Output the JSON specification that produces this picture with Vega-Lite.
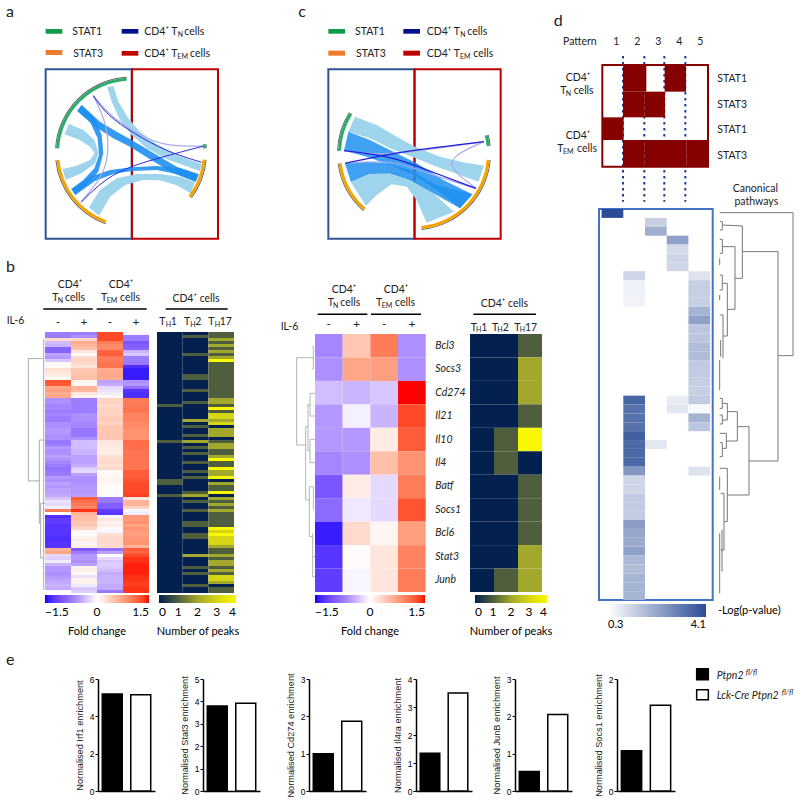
{
"$schema":"https://vega.github.io/schema/vega-lite/v6.json",
"padding":0,
"background":"white",
"config":{"view":{"stroke":null},"text":{"font":"Lato","fontSize":10.5,"baseline":"middle","color":"#222"},"legend":{"labelFont":"Lato","titleFont":"Lato","titleFontWeight":"normal"},"concat":{"spacing":0}},
"datasets":{
"genes":[
{"g":0,"tn_m":-0.7,"tn_p":-0.7,"em_m":1.3,"em_p":-0.05,"TH1":0,"TH2":0,"TH17":1},
{"g":1,"tn_m":-0.7,"tn_p":-0.6,"em_m":1.3,"em_p":-0.7,"TH1":0,"TH2":1,"TH17":1},
{"g":2,"tn_m":0.3,"tn_p":0.3,"em_m":1.3,"em_p":-0.7,"TH1":0,"TH2":0,"TH17":2},
{"g":3,"tn_m":-0.35,"tn_p":0.65,"em_m":1.0,"em_p":-1.0,"TH1":0,"TH2":0,"TH17":1},
{"g":4,"tn_m":-0.4,"tn_p":0.6,"em_m":0.9,"em_p":-0.95,"TH1":0,"TH2":0,"TH17":2},
{"g":5,"tn_m":-0.9,"tn_p":0.5,"em_m":0.9,"em_p":-0.9,"TH1":0,"TH2":0,"TH17":1},
{"g":6,"tn_m":-0.9,"tn_p":0.2,"em_m":1.15,"em_p":-0.4,"TH1":0,"TH2":0,"TH17":2},
{"g":7,"tn_m":-0.5,"tn_p":0.05,"em_m":1.2,"em_p":-0.3,"TH1":0,"TH2":1,"TH17":1},
{"g":8,"tn_m":-0.55,"tn_p":0.3,"em_m":1.0,"em_p":-0.7,"TH1":0,"TH2":0,"TH17":2},
{"g":9,"tn_m":-0.3,"tn_p":0.35,"em_m":1.0,"em_p":-0.7,"TH1":0,"TH2":0,"TH17":4},
{"g":10,"tn_m":0.03,"tn_p":0.3,"em_m":1.05,"em_p":-0.75,"TH1":0,"TH2":0,"TH17":1},
{"g":11,"tn_m":0.05,"tn_p":0.2,"em_m":1.05,"em_p":-1.3,"TH1":0,"TH2":0,"TH17":1},
{"g":12,"tn_m":0.25,"tn_p":0.45,"em_m":0.65,"em_p":-1.4,"TH1":0,"TH2":0,"TH17":1},
{"g":13,"tn_m":0.2,"tn_p":0.45,"em_m":0.65,"em_p":-1.4,"TH1":0,"TH2":0,"TH17":1},
{"g":14,"tn_m":0.15,"tn_p":0.5,"em_m":0.7,"em_p":-1.4,"TH1":0,"TH2":1,"TH17":1},
{"g":15,"tn_m":0.05,"tn_p":0.5,"em_m":0.65,"em_p":-1.4,"TH1":0,"TH2":1,"TH17":1},
{"g":16,"tn_m":1.25,"tn_p":0.1,"em_m":-0.5,"em_p":-0.6,"TH1":0,"TH2":0,"TH17":1},
{"g":17,"tn_m":1.2,"tn_p":0.05,"em_m":-0.45,"em_p":-0.55,"TH1":0,"TH2":0,"TH17":1},
{"g":18,"tn_m":0.7,"tn_p":0.6,"em_m":-0.2,"em_p":-0.8,"TH1":0,"TH2":0,"TH17":1},
{"g":19,"tn_m":0.75,"tn_p":0.55,"em_m":-0.15,"em_p":-1.25,"TH1":0,"TH2":1,"TH17":1},
{"g":20,"tn_m":0.65,"tn_p":0.2,"em_m":-0.1,"em_p":-1.3,"TH1":0,"TH2":0,"TH17":1},
{"g":21,"tn_m":0.7,"tn_p":0.1,"em_m":0.05,"em_p":-1.3,"TH1":0,"TH2":0,"TH17":1},
{"g":22,"tn_m":-0.6,"tn_p":-0.7,"em_m":0.35,"em_p":1.0,"TH1":0,"TH2":0,"TH17":2},
{"g":23,"tn_m":-0.6,"tn_p":-0.7,"em_m":0.35,"em_p":1.0,"TH1":0,"TH2":1,"TH17":2},
{"g":24,"tn_m":-0.65,"tn_p":-0.7,"em_m":0.3,"em_p":1.0,"TH1":1,"TH2":0,"TH17":1},
{"g":25,"tn_m":-0.65,"tn_p":-0.7,"em_m":0.35,"em_p":1.05,"TH1":0,"TH2":0,"TH17":4},
{"g":26,"tn_m":-0.7,"tn_p":-0.7,"em_m":0.35,"em_p":1.05,"TH1":0,"TH2":0,"TH17":1},
{"g":27,"tn_m":-0.65,"tn_p":-0.6,"em_m":0.35,"em_p":0.95,"TH1":0,"TH2":0,"TH17":3},
{"g":28,"tn_m":-0.7,"tn_p":-0.6,"em_m":0.4,"em_p":0.95,"TH1":0,"TH2":0,"TH17":3},
{"g":29,"tn_m":-0.7,"tn_p":-0.6,"em_m":0.4,"em_p":0.95,"TH1":0,"TH2":2,"TH17":2},
{"g":30,"tn_m":-0.6,"tn_p":-0.65,"em_m":0.35,"em_p":0.9,"TH1":0,"TH2":0,"TH17":3},
{"g":31,"tn_m":-0.6,"tn_p":-0.65,"em_m":0.45,"em_p":0.9,"TH1":0,"TH2":1,"TH17":0},
{"g":32,"tn_m":-0.55,"tn_p":-0.75,"em_m":0.45,"em_p":0.85,"TH1":0,"TH2":0,"TH17":2},
{"g":33,"tn_m":-0.55,"tn_p":-0.75,"em_m":0.45,"em_p":0.85,"TH1":0,"TH2":0,"TH17":2},
{"g":34,"tn_m":-0.6,"tn_p":-0.75,"em_m":0.45,"em_p":0.85,"TH1":0,"TH2":1,"TH17":2},
{"g":35,"tn_m":-0.6,"tn_p":-0.6,"em_m":0.45,"em_p":0.85,"TH1":0,"TH2":0,"TH17":0},
{"g":36,"tn_m":-0.75,"tn_p":-0.35,"em_m":0.2,"em_p":1.1,"TH1":1,"TH2":2,"TH17":1},
{"g":37,"tn_m":-0.7,"tn_p":-0.35,"em_m":0.2,"em_p":1.1,"TH1":0,"TH2":0,"TH17":2},
{"g":38,"tn_m":-0.55,"tn_p":-0.35,"em_m":0.15,"em_p":1.1,"TH1":0,"TH2":1,"TH17":2},
{"g":39,"tn_m":-0.6,"tn_p":-0.4,"em_m":0.15,"em_p":1.05,"TH1":0,"TH2":0,"TH17":1},
{"g":40,"tn_m":-0.6,"tn_p":-0.4,"em_m":0.15,"em_p":1.05,"TH1":0,"TH2":1,"TH17":1},
{"g":41,"tn_m":-0.5,"tn_p":-0.5,"em_m":0.25,"em_p":1.05,"TH1":0,"TH2":0,"TH17":2},
{"g":42,"tn_m":-0.6,"tn_p":-0.5,"em_m":0.3,"em_p":1.05,"TH1":0,"TH2":0,"TH17":4},
{"g":43,"tn_m":-0.65,"tn_p":-0.5,"em_m":0.3,"em_p":1.05,"TH1":0,"TH2":1,"TH17":1},
{"g":44,"tn_m":-0.7,"tn_p":-0.45,"em_m":0.25,"em_p":1.05,"TH1":0,"TH2":0,"TH17":1},
{"g":45,"tn_m":-0.8,"tn_p":-0.25,"em_m":0.3,"em_p":1.05,"TH1":0,"TH2":0,"TH17":4},
{"g":46,"tn_m":-0.75,"tn_p":-0.2,"em_m":0.03,"em_p":1.2,"TH1":0,"TH2":1,"TH17":2},
{"g":47,"tn_m":-0.7,"tn_p":-0.5,"em_m":0.05,"em_p":1.2,"TH1":0,"TH2":0,"TH17":2},
{"g":48,"tn_m":-0.55,"tn_p":-0.6,"em_m":0.08,"em_p":1.2,"TH1":0,"TH2":1,"TH17":4},
{"g":49,"tn_m":-0.6,"tn_p":-0.6,"em_m":0.1,"em_p":1.25,"TH1":1,"TH2":0,"TH17":0},
{"g":50,"tn_m":-0.5,"tn_p":-0.6,"em_m":0.06,"em_p":1.3,"TH1":1,"TH2":0,"TH17":2},
{"g":51,"tn_m":-0.55,"tn_p":-0.55,"em_m":0.03,"em_p":1.3,"TH1":0,"TH2":0,"TH17":1},
{"g":52,"tn_m":-0.5,"tn_p":-0.55,"em_m":0.02,"em_p":1.3,"TH1":0,"TH2":0,"TH17":1},
{"g":53,"tn_m":-0.5,"tn_p":-0.55,"em_m":0.02,"em_p":1.3,"TH1":0,"TH2":1,"TH17":4},
{"g":54,"tn_m":-0.45,"tn_p":-0.5,"em_m":0.05,"em_p":1.35,"TH1":1,"TH2":2,"TH17":0},
{"g":55,"tn_m":-0.3,"tn_p":1.2,"em_m":-0.7,"em_p":0.2,"TH1":0,"TH2":0,"TH17":2},
{"g":56,"tn_m":-0.15,"tn_p":1.1,"em_m":-0.75,"em_p":0.6,"TH1":0,"TH2":1,"TH17":1},
{"g":57,"tn_m":-0.2,"tn_p":1.0,"em_m":-0.95,"em_p":0.6,"TH1":0,"TH2":0,"TH17":2},
{"g":58,"tn_m":-0.1,"tn_p":0.95,"em_m":-0.95,"em_p":0.35,"TH1":0,"TH2":0,"TH17":1},
{"g":59,"tn_m":1.0,"tn_p":1.4,"em_m":-1.2,"em_p":-0.05,"TH1":0,"TH2":1,"TH17":2},
{"g":60,"tn_m":0.02,"tn_p":0.6,"em_m":-1.25,"em_p":-0.1,"TH1":0,"TH2":0,"TH17":1},
{"g":61,"tn_m":-1.3,"tn_p":0.5,"em_m":-0.05,"em_p":0.8,"TH1":0,"TH2":0,"TH17":1},
{"g":62,"tn_m":-1.2,"tn_p":0.5,"em_m":0.2,"em_p":0.8,"TH1":0,"TH2":0,"TH17":1},
{"g":63,"tn_m":-1.2,"tn_p":0.45,"em_m":0.1,"em_p":0.85,"TH1":0,"TH2":1,"TH17":1},
{"g":64,"tn_m":-1.25,"tn_p":0.45,"em_m":0.15,"em_p":0.7,"TH1":0,"TH2":1,"TH17":1},
{"g":65,"tn_m":-1.25,"tn_p":0.3,"em_m":-0.02,"em_p":0.85,"TH1":0,"TH2":0,"TH17":4},
{"g":66,"tn_m":-1.25,"tn_p":0.05,"em_m":-0.05,"em_p":0.75,"TH1":0,"TH2":0,"TH17":3},
{"g":67,"tn_m":-1.25,"tn_p":0.02,"em_m":0.25,"em_p":0.75,"TH1":0,"TH2":1,"TH17":4},
{"g":68,"tn_m":-1.3,"tn_p":0.1,"em_m":0.3,"em_p":0.8,"TH1":0,"TH2":1,"TH17":3},
{"g":69,"tn_m":-1.3,"tn_p":0.15,"em_m":0.3,"em_p":0.8,"TH1":0,"TH2":0,"TH17":3},
{"g":70,"tn_m":-1.25,"tn_p":-0.05,"em_m":0.3,"em_p":0.85,"TH1":0,"TH2":0,"TH17":3},
{"g":71,"tn_m":-1.25,"tn_p":0.15,"em_m":0.3,"em_p":0.6,"TH1":0,"TH2":0,"TH17":2},
{"g":72,"tn_m":0.6,"tn_p":-1.0,"em_m":-0.8,"em_p":1.2,"TH1":0,"TH2":0,"TH17":1},
{"g":73,"tn_m":0.7,"tn_p":-0.7,"em_m":-0.5,"em_p":1.15,"TH1":0,"TH2":0,"TH17":1},
{"g":74,"tn_m":-0.2,"tn_p":-0.55,"em_m":0.0,"em_p":1.3,"TH1":0,"TH2":2,"TH17":2},
{"g":75,"tn_m":-0.25,"tn_p":-0.55,"em_m":-0.2,"em_p":1.4,"TH1":0,"TH2":0,"TH17":1},
{"g":76,"tn_m":-0.1,"tn_p":-0.6,"em_m":-0.3,"em_p":1.4,"TH1":0,"TH2":0,"TH17":2},
{"g":77,"tn_m":-0.4,"tn_p":-0.5,"em_m":-0.25,"em_p":1.45,"TH1":0,"TH2":0,"TH17":2},
{"g":78,"tn_m":-0.55,"tn_p":0.08,"em_m":-0.3,"em_p":1.45,"TH1":0,"TH2":1,"TH17":1},
{"g":79,"tn_m":-0.55,"tn_p":0.12,"em_m":-0.35,"em_p":1.45,"TH1":0,"TH2":0,"TH17":2},
{"g":80,"tn_m":-0.6,"tn_p":0.05,"em_m":-0.45,"em_p":1.45,"TH1":0,"TH2":1,"TH17":1},
{"g":81,"tn_m":-0.55,"tn_p":-0.15,"em_m":-0.4,"em_p":1.4,"TH1":0,"TH2":0,"TH17":3},
{"g":82,"tn_m":-0.5,"tn_p":0.12,"em_m":-0.4,"em_p":1.4,"TH1":0,"TH2":0,"TH17":3},
{"g":83,"tn_m":-0.45,"tn_p":0.1,"em_m":-0.4,"em_p":1.35,"TH1":0,"TH2":0,"TH17":2},
{"g":84,"tn_m":-0.4,"tn_p":-0.1,"em_m":-0.45,"em_p":1.35,"TH1":0,"TH2":1,"TH17":0},
{"g":85,"tn_m":-0.45,"tn_p":-0.3,"em_m":-0.45,"em_p":1.4,"TH1":0,"TH2":0,"TH17":1},
{"g":86,"tn_m":0.0,"tn_p":-0.25,"em_m":-0.75,"em_p":1.4,"TH1":0,"TH2":0,"TH17":1}
],
"selected":[
{"gene":"Bcl3","tn_m":-0.65,"tn_p":0.45,"em_m":1.0,"em_p":-0.6,"TH1":0,"TH2":0,"TH17":1},
{"gene":"Socs3","tn_m":-0.6,"tn_p":0.7,"em_m":0.75,"em_p":-0.6,"TH1":0,"TH2":0,"TH17":2},
{"gene":"Cd274","tn_m":-0.35,"tn_p":-0.4,"em_m":-0.3,"em_p":1.5,"TH1":0,"TH2":0,"TH17":2},
{"gene":"Il21","tn_m":-0.55,"tn_p":-0.08,"em_m":-0.4,"em_p":1.3,"TH1":0,"TH2":0,"TH17":1},
{"gene":"Il10","tn_m":-0.55,"tn_p":-0.55,"em_m":0.15,"em_p":1.2,"TH1":0,"TH2":1,"TH17":4},
{"gene":"Il4","tn_m":-0.65,"tn_p":-0.6,"em_m":0.5,"em_p":0.85,"TH1":0,"TH2":1,"TH17":0},
{"gene":"Batf","tn_m":-1.0,"tn_p":0.15,"em_m":-0.2,"em_p":1.0,"TH1":0,"TH2":0,"TH17":1},
{"gene":"Socs1","tn_m":-0.85,"tn_p":-0.12,"em_m":-0.2,"em_p":1.25,"TH1":0,"TH2":0,"TH17":1},
{"gene":"Bcl6","tn_m":-1.4,"tn_p":0.3,"em_m":0.07,"em_p":0.75,"TH1":0,"TH2":0,"TH17":1},
{"gene":"Stat3","tn_m":-1.25,"tn_p":0.03,"em_m":0.2,"em_p":0.95,"TH1":0,"TH2":0,"TH17":2},
{"gene":"Junb","tn_m":-1.2,"tn_p":-0.05,"em_m":0.2,"em_p":1.0,"TH1":0,"TH2":1,"TH17":2}
],
"pathways":[
{"r":0,"p":"1","v":4.1},{"r":1,"p":"3","v":1.3},{"r":2,"p":"3","v":2.0},{"r":3,"p":"4","v":2.3},{"r":4,"p":"4","v":1.1},{"r":5,"p":"4","v":1.2},{"r":6,"p":"4","v":1.2},
{"r":7,"p":"2","v":1.2},{"r":7,"p":"5","v":0.9},{"r":8,"p":"2","v":0.6},{"r":8,"p":"5","v":1.3},{"r":9,"p":"2","v":0.6},{"r":9,"p":"5","v":1.3},{"r":10,"p":"2","v":0.55},{"r":10,"p":"5","v":1.3},
{"r":11,"p":"5","v":1.9},{"r":12,"p":"5","v":2.3},{"r":13,"p":"5","v":1.5},{"r":14,"p":"5","v":1.5},{"r":15,"p":"5","v":1.7},{"r":16,"p":"5","v":1.7},{"r":17,"p":"5","v":1.4},{"r":18,"p":"5","v":1.4},{"r":19,"p":"5","v":1.3},{"r":20,"p":"5","v":1.3},
{"r":21,"p":"2","v":3.6},{"r":21,"p":"4","v":0.7},{"r":21,"p":"5","v":1.4},{"r":22,"p":"2","v":3.3},{"r":22,"p":"4","v":0.8},{"r":22,"p":"5","v":0.4},{"r":23,"p":"2","v":3.3},{"r":23,"p":"5","v":1.9},{"r":24,"p":"2","v":3.3},{"r":24,"p":"5","v":1.5},
{"r":25,"p":"2","v":3.7},{"r":26,"p":"2","v":3.5},{"r":26,"p":"3","v":0.8},{"r":27,"p":"2","v":3.5},{"r":28,"p":"2","v":3.5},{"r":29,"p":"2","v":2.5},{"r":29,"p":"5","v":0.9},
{"r":30,"p":"2","v":1.2},{"r":31,"p":"2","v":1.2},{"r":32,"p":"2","v":1.4},{"r":33,"p":"2","v":1.4},{"r":34,"p":"2","v":1.4},{"r":35,"p":"2","v":2.4},{"r":36,"p":"2","v":2.2},{"r":37,"p":"2","v":2.1},{"r":38,"p":"2","v":2.3},{"r":39,"p":"2","v":1.8},{"r":40,"p":"2","v":1.7},{"r":41,"p":"2","v":1.9},{"r":42,"p":"2","v":1.9},{"r":43,"p":"2","v":1.9}
]
},
"resolve":{"scale":{"color":"independent","fill":"independent"}},
"vconcat":[
{"resolve":{"scale":{"color":"independent","fill":"independent"}},"hconcat":[
{"resolve":{"scale":{"color":"independent","fill":"independent"}},"vconcat":[
{"width":260,"height":332,"resolve":{"scale":{"color":"independent"}},
"encoding":{"x":{"field":"x","type":"quantitative","scale":{"domain":[0,780],"nice":false,"zero":false},"axis":null},"y":{"field":"y","type":"quantitative","scale":{"domain":[0,996],"reverse":true,"nice":false,"zero":false},"axis":null}},
"layer":[
{"data":{"values":[{"c":"TN","x":137,"x2":395,"y":208,"y2":716},{"c":"TEM","x":396,"x2":654,"y":208,"y2":716}]},"mark":{"type":"rect","filled":false,"strokeWidth":2},"encoding":{"x2":{"field":"x2"},"y2":{"field":"y2"},"color":{"field":"c","type":"nominal","scale":{"domain":["TN","TEM"],"range":["#2f5597","#c00000"]},"legend":null}}},
{"data":{"values":[{"c":"STAT1","x":137,"x2":187,"y":87,"y2":101},{"c":"TN","x":365,"x2":415,"y":87,"y2":101},{"c":"STAT3","x":137,"x2":187,"y":150,"y2":165},{"c":"TEM","x":365,"x2":415,"y":153,"y2":167}]},"mark":{"type":"rect"},"encoding":{"x2":{"field":"x2"},"y2":{"field":"y2"},"color":{"field":"c","type":"nominal","scale":{"domain":["STAT1","STAT3","TN","TEM"],"range":["#0f9a46","#ee7b2c","#00108c","#c00000"]},"legend":null}}},
{"data":{"values":[
{"id":"R1","o":1,"x":322,"y":262},{"id":"R1","o":2,"x":335,"y":305},{"id":"R1","o":3,"x":360,"y":360},{"id":"R1","o":4,"x":395,"y":405},{"id":"R1","o":5,"x":440,"y":445},{"id":"R1","o":6,"x":500,"y":478},{"id":"R1","o":7,"x":600,"y":513},{"id":"R1","o":8,"x":605,"y":492},{"id":"R1","o":9,"x":530,"y":465},{"id":"R1","o":10,"x":470,"y":432},{"id":"R1","o":11,"x":420,"y":395},{"id":"R1","o":12,"x":385,"y":355},{"id":"R1","o":13,"x":355,"y":305},{"id":"R1","o":14,"x":340,"y":258},
{"id":"R2","o":1,"x":207,"y":372},{"id":"R2","o":2,"x":250,"y":390},{"id":"R2","o":3,"x":283,"y":420},{"id":"R2","o":4,"x":296,"y":460},{"id":"R2","o":5,"x":285,"y":490},{"id":"R2","o":6,"x":245,"y":520},{"id":"R2","o":7,"x":197,"y":540},{"id":"R2","o":8,"x":188,"y":507},{"id":"R2","o":9,"x":230,"y":497},{"id":"R2","o":10,"x":270,"y":480},{"id":"R2","o":11,"x":284,"y":460},{"id":"R2","o":12,"x":270,"y":440},{"id":"R2","o":13,"x":235,"y":418},{"id":"R2","o":14,"x":193,"y":403},
{"id":"R3","o":1,"x":267,"y":622},{"id":"R3","o":2,"x":300,"y":570},{"id":"R3","o":3,"x":350,"y":535},{"id":"R3","o":4,"x":410,"y":522},{"id":"R3","o":5,"x":480,"y":522},{"id":"R3","o":6,"x":540,"y":530},{"id":"R3","o":7,"x":585,"y":547},{"id":"R3","o":8,"x":572,"y":580},{"id":"R3","o":9,"x":530,"y":556},{"id":"R3","o":10,"x":480,"y":541},{"id":"R3","o":11,"x":430,"y":540},{"id":"R3","o":12,"x":375,"y":555},{"id":"R3","o":13,"x":330,"y":590},{"id":"R3","o":14,"x":297,"y":647}]},
"mark":{"type":"line","filled":true,"interpolate":"linear-closed","color":"#9fd5ec","strokeWidth":0},"encoding":{"detail":{"field":"id"},"order":{"field":"o","type":"quantitative"}}},
{"data":{"values":[
{"id":"M1","o":1,"x":245,"y":315},{"id":"M1","o":2,"x":300,"y":365},{"id":"M1","o":3,"x":350,"y":395},{"id":"M1","o":4,"x":400,"y":423},{"id":"M1","o":5,"x":470,"y":465},{"id":"M1","o":6,"x":530,"y":500},{"id":"M1","o":7,"x":596,"y":523},{"id":"M1","o":8,"x":587,"y":545},{"id":"M1","o":9,"x":520,"y":520},{"id":"M1","o":10,"x":450,"y":478},{"id":"M1","o":11,"x":390,"y":440},{"id":"M1","o":12,"x":340,"y":415},{"id":"M1","o":13,"x":285,"y":380},{"id":"M1","o":14,"x":232,"y":333},
{"id":"M2","o":1,"x":245,"y":315},{"id":"M2","o":2,"x":285,"y":355},{"id":"M2","o":3,"x":305,"y":405},{"id":"M2","o":4,"x":310,"y":460},{"id":"M2","o":5,"x":295,"y":515},{"id":"M2","o":6,"x":265,"y":550},{"id":"M2","o":7,"x":226,"y":585},{"id":"M2","o":8,"x":214,"y":567},{"id":"M2","o":9,"x":250,"y":540},{"id":"M2","o":10,"x":283,"y":505},{"id":"M2","o":11,"x":297,"y":465},{"id":"M2","o":12,"x":293,"y":415},{"id":"M2","o":13,"x":270,"y":365},{"id":"M2","o":14,"x":232,"y":333},
{"id":"M3","o":1,"x":214,"y":567},{"id":"M3","o":2,"x":270,"y":530},{"id":"M3","o":3,"x":330,"y":510},{"id":"M3","o":4,"x":395,"y":502},{"id":"M3","o":5,"x":470,"y":498},{"id":"M3","o":6,"x":540,"y":505},{"id":"M3","o":7,"x":596,"y":523},{"id":"M3","o":8,"x":587,"y":545},{"id":"M3","o":9,"x":530,"y":522},{"id":"M3","o":10,"x":470,"y":510},{"id":"M3","o":11,"x":395,"y":513},{"id":"M3","o":12,"x":340,"y":522},{"id":"M3","o":13,"x":285,"y":543},{"id":"M3","o":14,"x":226,"y":585}]},
"mark":{"type":"line","filled":true,"interpolate":"linear-closed","color":"#1e90f0","opacity":0.9,"strokeWidth":0},"encoding":{"detail":{"field":"id"},"order":{"field":"o","type":"quantitative"}}},
{"data":{"values":[{"id":"T2","o":1,"x":280,"y":287},{"id":"T2","o":2,"x":325,"y":380},{"id":"T2","o":3,"x":325,"y":480},{"id":"T2","o":4,"x":300,"y":540},{"id":"T2","o":5,"x":243,"y":605},{"id":"T4","o":1,"x":280,"y":287},{"id":"T4","o":2,"x":330,"y":350},{"id":"T4","o":3,"x":440,"y":420},{"id":"T4","o":4,"x":520,"y":440},{"id":"T4","o":5,"x":612,"y":438}]},"mark":{"type":"line","interpolate":"basis","color":"#a9a9f2","strokeWidth":1.2},"encoding":{"detail":{"field":"id"},"order":{"field":"o","type":"quantitative"}}},
{"data":{"values":[{"id":"T1","o":1,"x":280,"y":287},{"id":"T1","o":2,"x":320,"y":345},{"id":"T1","o":3,"x":400,"y":400},{"id":"T1","o":4,"x":500,"y":455},{"id":"T1","o":5,"x":605,"y":487},{"id":"T3","o":1,"x":243,"y":607},{"id":"T3","o":2,"x":290,"y":560},{"id":"T3","o":3,"x":350,"y":515},{"id":"T3","o":4,"x":450,"y":480},{"id":"T3","o":5,"x":612,"y":438}]},"mark":{"type":"line","interpolate":"basis","color":"#2a2ae0","strokeWidth":1},"encoding":{"detail":{"field":"id"},"order":{"field":"o","type":"quantitative"}}},
{"data":{"values":[{"x":393,"y":458,"s":273.4,"e":356.6},{"x":393,"y":458,"s":199.8,"e":264.3},{"x":393,"y":458,"s":95.5,"e":126.9},{"x":393,"y":458,"s":83.4,"e":86.7}]},"mark":{"type":"arc","outerRadius":76,"innerRadius":75,"color":"#666"},"encoding":{"theta":{"field":"s","type":"quantitative","stack":false,"scale":{"domain":[0,360],"range":[0,6.2832]}},"theta2":{"field":"e"}}},
{"data":{"values":[{"k":"STAT1","x":393,"y":458,"s":273.4,"e":356.6},{"k":"STAT3","x":393,"y":458,"s":199.8,"e":264.3},{"k":"STAT3","x":393,"y":458,"s":95.5,"e":126.9},{"k":"STAT1","x":393,"y":458,"s":83.4,"e":86.7}]},"mark":{"type":"arc","outerRadius":75,"innerRadius":72},"encoding":{"theta":{"field":"s","type":"quantitative","stack":false,"scale":{"domain":[0,360],"range":[0,6.2832]}},"theta2":{"field":"e"},"color":{"field":"k","type":"nominal","scale":{"domain":["STAT1","STAT3"],"range":["#2bab6c","#f5a300"]},"legend":null}}},
{"data":{"values":[{"x":130,"x2":278,"y":927},{"x":290,"x2":440,"y":927},{"x":497,"x2":683,"y":927}]},"mark":{"type":"rule","color":"black","strokeWidth":1.5},"encoding":{"x2":{"field":"x2"}}},
{"data":{"values":[{"t":"a","x":18,"y":35},{"t":"b","x":18,"y":802}]},"mark":{"type":"text","align":"left","fontSize":16},"encoding":{"text":{"field":"t"}}},
{"data":{"values":[{"t":"STAT1","x":217,"y":97},{"t":"STAT3","x":220,"y":163},{"t":"CD4⁺ T","x":433,"y":97},{"t":"cells","x":553,"y":97},{"t":"CD4⁺ T","x":433,"y":163},{"t":"cells","x":570,"y":163},{"t":"T","x":157,"y":893},{"t":"cells","x":195,"y":893},{"t":"T","x":303,"y":893},{"t":"cells","x":360,"y":893},{"t":"IL-6","x":20,"y":963},{"t":"T","x":478,"y":967},{"t":"1","x":512,"y":967},{"t":"T","x":552,"y":967},{"t":"2","x":586,"y":967},{"t":"T","x":625,"y":967},{"t":"17","x":659,"y":967}]},"mark":{"type":"text","align":"left"},"encoding":{"text":{"field":"t"}}},
{"data":{"values":[{"t":"CD4⁺","x":210,"y":855},{"t":"CD4⁺","x":363,"y":855},{"t":"CD4⁺ cells","x":588,"y":897}]},"mark":{"type":"text","align":"center"},"encoding":{"text":{"field":"t"}}},
{"data":{"values":[{"t":"N","x":533,"y":106},{"t":"EM","x":532,"y":172},{"t":"N","x":173,"y":902},{"t":"EM","x":320,"y":902},{"t":"H","x":497,"y":975},{"t":"H","x":571,"y":975},{"t":"H","x":644,"y":975}]},"mark":{"type":"text","align":"left","fontSize":7},"encoding":{"text":{"field":"t"}}}
]},
{"resolve":{"scale":{"color":"independent","fill":"independent"}},"hconcat":[
{"width":45,"height":261,"data":{"values":[{"x":85,"x2":128,"y":295,"y2":295},{"x":85,"x2":85,"y":295,"y2":663},{"x":85,"x2":118,"y":663,"y2":663},{"x":118,"x2":118,"y":540,"y2":790},{"x":118,"x2":130,"y":540,"y2":540},{"x":118,"x2":122,"y":790,"y2":790},{"x":122,"x2":122,"y":730,"y2":895},{"x":122,"x2":135,"y":730,"y2":730},{"x":122,"x2":130,"y":895,"y2":895},{"x":131,"x2":131,"y":235,"y2":990}]},"mark":{"type":"rule","color":"#aaa","strokeWidth":1},"encoding":{"x":{"field":"x","type":"quantitative","scale":{"domain":[0,135],"nice":false,"zero":false},"axis":null},"x2":{"field":"x2"},"y":{"field":"y","type":"quantitative","scale":{"domain":[215,1000],"reverse":true,"nice":false,"zero":false},"axis":null},"y2":{"field":"y2"}}},
{"width":104,"height":261,"data":{"name":"genes"},"transform":[{"fold":["tn_m","tn_p","em_m","em_p"],"as":["cond","fc"]}],"mark":{"type":"rect"},"encoding":{"x":{"field":"cond","type":"nominal","scale":{"domain":["tn_m","tn_p","em_m","em_p"],"padding":0},"axis":{"orient":"top","title":null,"domain":false,"ticks":false,"labelAngle":0,"labelFont":"Lato","labelFontSize":12,"labelPadding":4,"labelColor":"#222","labelExpr":"slice(datum.label,-1)=='m'?'-':'+'"}},"y":{"field":"g","type":"ordinal","scale":{"padding":0},"axis":null},"color":{"field":"fc","type":"quantitative","scale":{"domain":[-1.5,-0.7,0,1.5],"range":["#0000ff","#9d7dff","#ffffff","#ff0000"],"interpolate":"lab"},"legend":{"orient":"none","legendX":0,"legendY":263,"direction":"horizontal","gradientLength":104,"gradientThickness":8,"values":[-1.5,0,1.5],"format":".1~f","labelFontSize":12,"labelOffset":4,"title":"Fold change","titleOrient":"bottom","titleAnchor":"middle","titleFontSize":11,"titlePadding":8}}}},
{"width":8,"height":261,"data":{"values":[]},"mark":{"type":"point","opacity":0},"encoding":{}},
{"width":77,"height":261,"data":{"name":"genes"},"transform":[{"fold":["TH1","TH2","TH17"],"as":["subset","peaks"]}],"mark":{"type":"rect"},"encoding":{"x":{"field":"subset","type":"nominal","scale":{"domain":["TH1","TH2","TH17"],"padding":0},"axis":null},"y":{"field":"g","type":"ordinal","scale":{"padding":0},"axis":null},"color":{"field":"peaks","type":"quantitative","scale":{"domain":[0,1,2,3,4],"range":["#04204f","#4f5e3c","#a1a82b","#d6d614","#f8f800"],"interpolate":"rgb"},"legend":{"orient":"none","legendX":0,"legendY":263,"direction":"horizontal","gradientLength":77,"gradientThickness":8,"values":[0,1,2,3,4],"labelFontSize":12,"labelOffset":4,"title":"Number of peaks","titleOrient":"bottom","titleAnchor":"middle","titleFontSize":11,"titlePadding":8}}}}
],"spacing":0,"bounds":"flush"}
],"spacing":0,"bounds":"flush"},
{"resolve":{"scale":{"color":"independent","fill":"independent"}},"vconcat":[
{"width":290,"height":334,"resolve":{"scale":{"color":"independent"}},
"encoding":{"x":{"field":"x","type":"quantitative","scale":{"domain":[0,870],"nice":false,"zero":false},"axis":null},"y":{"field":"y","type":"quantitative","scale":{"domain":[0,1002],"reverse":true,"nice":false,"zero":false},"axis":null}},
"layer":[
{"data":{"values":[{"c":"TN","x":205,"x2":463,"y":208,"y2":716},{"c":"TEM","x":464,"x2":722,"y":208,"y2":716}]},"mark":{"type":"rect","filled":false,"strokeWidth":2},"encoding":{"x2":{"field":"x2"},"y2":{"field":"y2"},"color":{"field":"c","type":"nominal","scale":{"domain":["TN","TEM"],"range":["#2f5597","#c00000"]},"legend":null}}},
{"data":{"values":[{"c":"STAT1","x":205,"x2":255,"y":87,"y2":101},{"c":"TN","x":430,"x2":480,"y":87,"y2":101},{"c":"STAT3","x":205,"x2":255,"y":152,"y2":167},{"c":"TEM","x":430,"x2":480,"y":152,"y2":167}]},"mark":{"type":"rect"},"encoding":{"x2":{"field":"x2"},"y2":{"field":"y2"},"color":{"field":"c","type":"nominal","scale":{"domain":["STAT1","STAT3","TN","TEM"],"range":["#0f9a46","#ee7b2c","#00108c","#c00000"]},"legend":null}}},
{"data":{"values":[
{"id":"L1","o":1,"x":285,"y":350},{"id":"L1","o":2,"x":350,"y":375},{"id":"L1","o":3,"x":410,"y":410},{"id":"L1","o":4,"x":465,"y":440},{"id":"L1","o":5,"x":540,"y":470},{"id":"L1","o":6,"x":610,"y":487},{"id":"L1","o":7,"x":672,"y":497},{"id":"L1","o":8,"x":655,"y":545},{"id":"L1","o":9,"x":600,"y":525},{"id":"L1","o":10,"x":530,"y":500},{"id":"L1","o":11,"x":460,"y":472},{"id":"L1","o":12,"x":390,"y":445},{"id":"L1","o":13,"x":330,"y":415},{"id":"L1","o":14,"x":265,"y":395},
{"id":"L2","o":1,"x":272,"y":545},{"id":"L2","o":2,"x":335,"y":522},{"id":"L2","o":3,"x":400,"y":517},{"id":"L2","o":4,"x":460,"y":540},{"id":"L2","o":5,"x":520,"y":580},{"id":"L2","o":6,"x":582,"y":635},{"id":"L2","o":7,"x":500,"y":668},{"id":"L2","o":8,"x":470,"y":600},{"id":"L2","o":9,"x":440,"y":560},{"id":"L2","o":10,"x":395,"y":553},{"id":"L2","o":11,"x":350,"y":585},{"id":"L2","o":12,"x":318,"y":617}]},
"mark":{"type":"line","filled":true,"interpolate":"linear-closed","color":"#9fd5ec","strokeWidth":0},"encoding":{"detail":{"field":"id"},"order":{"field":"o","type":"quantitative"}}},
{"data":{"values":[
{"id":"M1","o":1,"x":265,"y":395},{"id":"M1","o":2,"x":330,"y":420},{"id":"M1","o":3,"x":400,"y":455},{"id":"M1","o":4,"x":470,"y":490},{"id":"M1","o":5,"x":550,"y":540},{"id":"M1","o":6,"x":637,"y":583},{"id":"M1","o":7,"x":600,"y":625},{"id":"M1","o":8,"x":530,"y":570},{"id":"M1","o":9,"x":460,"y":525},{"id":"M1","o":10,"x":390,"y":495},{"id":"M1","o":11,"x":320,"y":470},{"id":"M1","o":12,"x":252,"y":452},
{"id":"M2","o":1,"x":255,"y":490},{"id":"M2","o":2,"x":320,"y":485},{"id":"M2","o":3,"x":380,"y":490},{"id":"M2","o":4,"x":450,"y":510},{"id":"M2","o":5,"x":530,"y":555},{"id":"M2","o":6,"x":637,"y":583},{"id":"M2","o":7,"x":600,"y":625},{"id":"M2","o":8,"x":520,"y":580},{"id":"M2","o":9,"x":450,"y":540},{"id":"M2","o":10,"x":390,"y":520},{"id":"M2","o":11,"x":330,"y":522},{"id":"M2","o":12,"x":272,"y":545}]},
"mark":{"type":"line","filled":true,"interpolate":"linear-closed","color":"#1e90f0","opacity":0.85,"strokeWidth":0},"encoding":{"detail":{"field":"id"},"order":{"field":"o","type":"quantitative"}}},
{"data":{"values":[{"id":"T3","o":1,"x":672,"y":425},{"id":"T3","o":2,"x":570,"y":470},{"id":"T3","o":3,"x":575,"y":510},{"id":"T3","o":4,"x":648,"y":565},{"id":"T4","o":1,"x":252,"y":452},{"id":"T4","o":2,"x":350,"y":465},{"id":"T4","o":3,"x":460,"y":455},{"id":"T4","o":4,"x":672,"y":425},{"id":"T5","o":1,"x":255,"y":490},{"id":"T5","o":2,"x":400,"y":480},{"id":"T5","o":3,"x":500,"y":520},{"id":"T5","o":4,"x":648,"y":565}]},"mark":{"type":"line","interpolate":"basis","color":"#a9a9f2","strokeWidth":1.2},"encoding":{"detail":{"field":"id"},"order":{"field":"o","type":"quantitative"}}},
{"data":{"values":[{"id":"T1","o":1,"x":252,"y":452},{"id":"T1","o":2,"x":400,"y":470},{"id":"T1","o":3,"x":500,"y":510},{"id":"T1","o":4,"x":648,"y":565},{"id":"T2","o":1,"x":255,"y":490},{"id":"T2","o":2,"x":350,"y":470},{"id":"T2","o":3,"x":460,"y":450},{"id":"T2","o":4,"x":672,"y":425}]},"mark":{"type":"line","interpolate":"basis","color":"#2020d8","strokeWidth":1.3},"encoding":{"detail":{"field":"id"},"order":{"field":"o","type":"quantitative"}}},
{"data":{"values":[{"x":462,"y":460,"s":272,"e":302.3},{"x":462,"y":460,"s":221.4,"e":262.4},{"x":462,"y":460,"s":95,"e":174.3},{"x":462,"y":460,"s":76,"e":84.4}]},"mark":{"type":"arc","outerRadius":77,"innerRadius":76,"color":"#666"},"encoding":{"theta":{"field":"s","type":"quantitative","stack":false,"scale":{"domain":[0,360],"range":[0,6.2832]}},"theta2":{"field":"e"}}},
{"data":{"values":[{"k":"STAT1","x":462,"y":460,"s":272,"e":302.3},{"k":"STAT3","x":462,"y":460,"s":221.4,"e":262.4},{"k":"STAT3","x":462,"y":460,"s":95,"e":174.3},{"k":"STAT1","x":462,"y":460,"s":76,"e":84.4}]},"mark":{"type":"arc","outerRadius":76,"innerRadius":73},"encoding":{"theta":{"field":"s","type":"quantitative","stack":false,"scale":{"domain":[0,360],"range":[0,6.2832]}},"theta2":{"field":"e"},"color":{"field":"k","type":"nominal","scale":{"domain":["STAT1","STAT3"],"range":["#2bab6c","#f5a300"]},"legend":null}}},
{"data":{"values":[{"x":173,"x2":322,"y":943},{"x":333,"x2":483,"y":943},{"x":640,"x2":828,"y":943}]},"mark":{"type":"rule","color":"black","strokeWidth":1.5},"encoding":{"x2":{"field":"x2"}}},
{"data":{"values":[{"t":"c","x":115,"y":35}]},"mark":{"type":"text","align":"left","fontSize":16},"encoding":{"text":{"field":"t"}}},
{"data":{"values":[{"t":"STAT1","x":285,"y":97},{"t":"STAT3","x":288,"y":163},{"t":"CD4⁺ T","x":500,"y":97},{"t":"cells","x":622,"y":97},{"t":"CD4⁺ T","x":500,"y":163},{"t":"cells","x":640,"y":163},{"t":"T","x":203,"y":910},{"t":"cells","x":241,"y":910},{"t":"T","x":348,"y":910},{"t":"cells","x":405,"y":910},{"t":"IL-6","x":62,"y":980},{"t":"T","x":632,"y":983},{"t":"1","x":664,"y":983},{"t":"T","x":696,"y":983},{"t":"2","x":728,"y":983},{"t":"T","x":763,"y":983},{"t":"17","x":795,"y":983}]},"mark":{"type":"text","align":"left"},"encoding":{"text":{"field":"t"}}},
{"data":{"values":[{"t":"CD4⁺","x":252,"y":870},{"t":"CD4⁺","x":408,"y":870},{"t":"CD4⁺ cells","x":733,"y":912}]},"mark":{"type":"text","align":"center"},"encoding":{"text":{"field":"t"}}},
{"data":{"values":[{"t":"N","x":601,"y":106},{"t":"EM","x":600,"y":172},{"t":"N","x":219,"y":919},{"t":"EM","x":365,"y":919},{"t":"H","x":648,"y":991},{"t":"H","x":712,"y":991},{"t":"H","x":779,"y":991}]},"mark":{"type":"text","align":"left","fontSize":7},"encoding":{"text":{"field":"t"}}}
]},
{"resolve":{"scale":{"color":"independent","fill":"independent"}},"hconcat":[
{"width":55,"height":258,"data":{"values":[{"x":125,"x2":130,"y":230,"y2":230},{"x":125,"x2":130,"y":297,"y2":297},{"x":130,"x2":130,"y":230,"y2":297},{"x":80,"x2":130,"y":263,"y2":263},{"x":80,"x2":80,"y":263,"y2":525},{"x":80,"x2":107,"y":525,"y2":525},{"x":120,"x2":120,"y":370,"y2":438},{"x":120,"x2":135,"y":370,"y2":370},{"x":120,"x2":135,"y":438,"y2":438},{"x":120,"x2":120,"y":508,"y2":578},{"x":120,"x2":135,"y":508,"y2":508},{"x":120,"x2":135,"y":578,"y2":578},{"x":114,"x2":114,"y":404,"y2":543},{"x":114,"x2":120,"y":404,"y2":404},{"x":114,"x2":120,"y":543,"y2":543},{"x":107,"x2":114,"y":470,"y2":470},{"x":107,"x2":107,"y":470,"y2":690},{"x":107,"x2":118,"y":690,"y2":690},{"x":118,"x2":118,"y":650,"y2":800},{"x":118,"x2":130,"y":650,"y2":650},{"x":130,"x2":130,"y":650,"y2":720},{"x":118,"x2":128,"y":800,"y2":800},{"x":128,"x2":128,"y":790,"y2":920},{"x":128,"x2":135,"y":920,"y2":920},{"x":128,"x2":135,"y":860,"y2":860}]},"mark":{"type":"rule","color":"#b5b5b5","strokeWidth":1},"encoding":{"x":{"field":"x","type":"quantitative","scale":{"domain":[-30,135],"nice":false,"zero":false},"axis":null},"x2":{"field":"x2"},"y":{"field":"y","type":"quantitative","scale":{"domain":[192,966],"reverse":true,"nice":false,"zero":false},"axis":null},"y2":{"field":"y2"}}},
{"width":110.7,"height":258,"data":{"name":"selected"},"transform":[{"fold":["tn_m","tn_p","em_m","em_p"],"as":["cond","fc"]}],"mark":{"type":"rect"},"encoding":{"x":{"field":"cond","type":"nominal","scale":{"domain":["tn_m","tn_p","em_m","em_p"],"padding":0},"axis":{"orient":"top","title":null,"domain":false,"ticks":false,"labelAngle":0,"labelFont":"Lato","labelFontSize":12,"labelPadding":4,"labelColor":"#222","labelExpr":"slice(datum.label,-1)=='m'?'-':'+'"}},"y":{"field":"gene","type":"nominal","sort":null,"scale":{"padding":0},"axis":{"orient":"right","title":null,"domain":false,"ticks":false,"labelFont":"Lato","labelFontStyle":"italic","labelFontSize":10.5,"labelPadding":9,"labelColor":"#222"}},"color":{"field":"fc","type":"quantitative","scale":{"domain":[-1.5,-0.7,0,1.5],"range":["#0000ff","#9d7dff","#ffffff","#ff0000"],"interpolate":"lab"},"legend":{"orient":"none","legendX":0,"legendY":261,"direction":"horizontal","gradientLength":110,"gradientThickness":8,"values":[-1.5,0,1.5],"format":".1~f","labelFontSize":12,"labelOffset":4,"title":"Fold change","titleOrient":"bottom","titleAnchor":"middle","titleFontSize":11,"titlePadding":8}}}},
{"width":43.3,"height":258,"data":{"values":[]},"mark":{"type":"point","opacity":0},"encoding":{}},
{"width":72,"height":258,"data":{"name":"selected"},"transform":[{"fold":["TH1","TH2","TH17"],"as":["subset","peaks"]}],"mark":{"type":"rect"},"encoding":{"x":{"field":"subset","type":"nominal","scale":{"domain":["TH1","TH2","TH17"],"padding":0},"axis":null},"y":{"field":"gene","type":"nominal","sort":null,"scale":{"padding":0},"axis":null},"color":{"field":"peaks","type":"quantitative","scale":{"domain":[0,1,2,3,4],"range":["#04204f","#4f5e3c","#a1a82b","#d6d614","#f8f800"],"interpolate":"rgb"},"legend":{"orient":"none","legendX":0,"legendY":261,"direction":"horizontal","gradientLength":72,"gradientThickness":8,"values":[0,1,2,3,4],"labelFontSize":12,"labelOffset":4,"title":"Number of peaks","titleOrient":"bottom","titleAnchor":"middle","titleFontSize":11,"titlePadding":8}}}}
],"spacing":0,"bounds":"flush"}
],"spacing":0,"bounds":"flush"},
{"resolve":{"scale":{"color":"independent","fill":"independent"}},"vconcat":[
{"width":250,"height":209,
"encoding":{"x":{"field":"x","type":"quantitative","scale":{"domain":[10,760],"nice":false,"zero":false},"axis":null},"y":{"field":"y","type":"quantitative","scale":{"domain":[0,627],"reverse":true,"nice":false,"zero":false},"axis":null}},
"layer":[
{"data":{"values":[{"x":220,"y":168,"y2":605},{"x":284,"y":168,"y2":605},{"x":344,"y":168,"y2":605},{"x":407,"y":168,"y2":605}]},"mark":{"type":"rule","color":"#1f3f8f","strokeWidth":2,"strokeDash":[2.5,3.5]},"encoding":{"y2":{"field":"y2"}}},
{"data":{"values":[{"row":"TN STAT1","pattern":2,"x":220,"x2":290,"y":198,"y2":275},{"row":"TN STAT1","pattern":4,"x":345,"x2":409,"y":198,"y2":275},{"row":"TN STAT3","pattern":2,"x":220,"x2":285,"y":275,"y2":352},{"row":"TN STAT3","pattern":3,"x":285,"x2":346,"y":275,"y2":352},{"row":"TEM STAT1","pattern":1,"x":158,"x2":222,"y":352,"y2":420},{"row":"TEM STAT3","pattern":2,"x":220,"x2":285,"y":420,"y2":500},{"row":"TEM STAT3","pattern":3,"x":285,"x2":346,"y":420,"y2":500},{"row":"TEM STAT3","pattern":4,"x":346,"x2":410,"y":420,"y2":500},{"row":"TEM STAT3","pattern":5,"x":410,"x2":475,"y":420,"y2":500}]},"mark":{"type":"rect","color":"#870000"},"encoding":{"x2":{"field":"x2"},"y2":{"field":"y2"}}},
{"data":{"values":[{"x":158,"x2":475,"y":195,"y2":500}]},"mark":{"type":"rect","filled":false,"stroke":"#870000","strokeWidth":2},"encoding":{"x2":{"field":"x2"},"y2":{"field":"y2"}}},
{"data":{"values":[{"t":"d","x":12,"y":62}]},"mark":{"type":"text","align":"left","fontSize":16},"encoding":{"text":{"field":"t"}}},
{"data":{"values":[{"t":"Pattern","x":40,"y":125},{"t":"STAT1","x":503,"y":238},{"t":"STAT3","x":503,"y":314},{"t":"STAT1","x":503,"y":390},{"t":"STAT3","x":503,"y":467},{"t":"T","x":32,"y":272},{"t":"cells","x":72,"y":272},{"t":"T","x":23,"y":448},{"t":"cells","x":82,"y":448}]},"mark":{"type":"text","align":"left"},"encoding":{"text":{"field":"t"}}},
{"data":{"values":[{"t":"1","x":200,"y":125},{"t":"2","x":263,"y":125},{"t":"3","x":326,"y":125},{"t":"4","x":389,"y":125},{"t":"5","x":452,"y":125},{"t":"CD4⁺","x":85,"y":233},{"t":"CD4⁺","x":85,"y":408},{"t":"Canonical","x":617,"y":567},{"t":"pathways","x":620,"y":607}]},"mark":{"type":"text","align":"center"},"encoding":{"text":{"field":"t"}}},
{"data":{"values":[{"t":"N","x":48,"y":281},{"t":"EM","x":40,"y":457}]},"mark":{"type":"text","align":"left","fontSize":7},"encoding":{"text":{"field":"t"}}}
]},
{"resolve":{"scale":{"color":"independent","fill":"independent"}},"hconcat":[
{"width":45.6,"height":391,"data":{"values":[]},"mark":{"type":"point","opacity":0},"encoding":{}},
{"width":113.7,"height":391,"view":{"stroke":"#4472c4","strokeWidth":2},"data":{"name":"pathways"},"mark":{"type":"rect"},"encoding":{"x":{"field":"p","type":"ordinal","scale":{"domain":["1","2","3","4","5"],"paddingInner":0,"paddingOuter":0.12},"axis":null},"y":{"field":"r","type":"ordinal","scale":{"domain":[0,1,2,3,4,5,6,7,8,9,10,11,12,13,14,15,16,17,18,19,20,21,22,23,24,25,26,27,28,29,30,31,32,33,34,35,36,37,38,39,40,41,42,43],"padding":0},"axis":null},"color":{"field":"v","type":"quantitative","scale":{"domain":[0.3,4.1],"range":["#ffffff","#2b4c96"],"interpolate":"rgb"},"legend":{"orient":"none","legendX":9,"legendY":395,"direction":"horizontal","gradientLength":98,"gradientThickness":13,"values":[0.3,4.1],"format":".1f","labelFontSize":11,"labelOffset":2,"title":"-Log(p-value)","titleOrient":"right","titleFontSize":11,"titlePadding":12}}}},
{"width":4.3,"height":391,"data":{"values":[]},"mark":{"type":"point","opacity":0},"encoding":{}},
{"width":76,"height":391,"data":{"values":[{"x":417,"x2":637,"y":38,"y2":38},{"x":637,"x2":637,"y":38,"y2":467},{"x":592,"x2":637,"y":467,"y2":467},{"x":592,"x2":592,"y":155,"y2":783},{"x":485,"x2":592,"y":155,"y2":155},{"x":485,"x2":485,"y":78,"y2":235},{"x":425,"x2":485,"y":75,"y2":78},{"x":425,"x2":425,"y":65,"y2":90},{"x":418,"x2":425,"y":65,"y2":65},{"x":418,"x2":425,"y":90,"y2":90},{"x":463,"x2":485,"y":235,"y2":235},{"x":463,"x2":463,"y":140,"y2":328},{"x":425,"x2":463,"y":140,"y2":140},{"x":425,"x2":425,"y":118,"y2":160},{"x":417,"x2":425,"y":118,"y2":118},{"x":417,"x2":425,"y":160,"y2":160},{"x":417,"x2":417,"y":175,"y2":195},{"x":440,"x2":463,"y":328,"y2":328},{"x":440,"x2":440,"y":250,"y2":408},{"x":425,"x2":440,"y":250,"y2":250},{"x":425,"x2":425,"y":225,"y2":270},{"x":417,"x2":425,"y":225,"y2":225},{"x":417,"x2":425,"y":270,"y2":270},{"x":417,"x2":417,"y":285,"y2":300},{"x":427,"x2":440,"y":408,"y2":408},{"x":427,"x2":427,"y":345,"y2":475},{"x":417,"x2":427,"y":345,"y2":345},{"x":420,"x2":420,"y":420,"y2":470},{"x":417,"x2":417,"y":480,"y2":570},{"x":505,"x2":592,"y":783,"y2":783},{"x":505,"x2":505,"y":680,"y2":885},{"x":470,"x2":505,"y":680,"y2":680},{"x":470,"x2":470,"y":635,"y2":723},{"x":440,"x2":470,"y":635,"y2":635},{"x":440,"x2":440,"y":610,"y2":660},{"x":425,"x2":440,"y":610,"y2":610},{"x":425,"x2":425,"y":595,"y2":625},{"x":417,"x2":425,"y":595,"y2":595},{"x":417,"x2":425,"y":625,"y2":625},{"x":425,"x2":440,"y":660,"y2":660},{"x":425,"x2":425,"y":645,"y2":672},{"x":417,"x2":425,"y":645,"y2":645},{"x":417,"x2":425,"y":672,"y2":672},{"x":437,"x2":470,"y":723,"y2":723},{"x":437,"x2":437,"y":700,"y2":745},{"x":417,"x2":437,"y":700,"y2":700},{"x":425,"x2":437,"y":745,"y2":745},{"x":425,"x2":425,"y":728,"y2":770},{"x":417,"x2":425,"y":728,"y2":728},{"x":417,"x2":425,"y":770,"y2":770},{"x":440,"x2":505,"y":885,"y2":885},{"x":440,"x2":440,"y":805,"y2":965},{"x":417,"x2":440,"y":805,"y2":805},{"x":430,"x2":440,"y":965,"y2":965},{"x":430,"x2":430,"y":880,"y2":1050},{"x":420,"x2":430,"y":880,"y2":880},{"x":420,"x2":430,"y":1050,"y2":1050},{"x":417,"x2":417,"y":830,"y2":870},{"x":424,"x2":424,"y":990,"y2":1115},{"x":417,"x2":417,"y":1000,"y2":1180}]},"mark":{"type":"rule","color":"#777","strokeWidth":1},"encoding":{"x":{"field":"x","type":"quantitative","scale":{"domain":[412,640],"nice":false,"zero":false},"axis":null},"x2":{"field":"x2"},"y":{"field":"y","type":"quantitative","scale":{"domain":[27,1200],"reverse":true,"nice":false,"zero":false},"axis":null},"y2":{"field":"y2"}}}
],"spacing":0,"bounds":"flush"}
],"spacing":0,"bounds":"flush"}
],"spacing":0},
{"resolve":{"scale":{"color":"independent","fill":"independent"}},"hconcat":[
{"width":98,"height":112,"data":{"values":[{"t":"e","x":18,"y":37}]},"mark":{"type":"text","align":"left","fontSize":16},"encoding":{"x":{"field":"x","type":"quantitative","scale":{"domain":[0,294],"nice":false,"zero":false},"axis":null},"y":{"field":"y","type":"quantitative","scale":{"domain":[93,429],"reverse":true,"nice":false,"zero":false},"axis":null},"text":{"field":"t"}}},
{"width":57,"height":112,"data":{"values":[{"genotype":"Ptpn2 fl/fl","enrichment":5.2},{"genotype":"Lck-Cre Ptpn2 fl/fl","enrichment":5.15}]},"mark":{"type":"bar","stroke":"black","strokeWidth":1.5},"encoding":{"x":{"field":"genotype","type":"nominal","sort":null,"scale":{"paddingInner":0.3,"paddingOuter":0.15},"axis":{"title":null,"labels":false,"ticks":false,"domainColor":"black","domainWidth":1.5}},"y":{"field":"enrichment","type":"quantitative","scale":{"domain":[0,6],"nice":false},"axis":{"title":"Normalised Irf1 enrichment","values":[0,2,4,6],"format":"d","grid":false,"tickSize":3,"tickColor":"black","domainColor":"black","domainWidth":1.5,"labelFont":"Liberation Sans","labelFontSize":8.5,"labelColor":"black","labelPadding":1,"titleFont":"Liberation Sans","titleFontSize":9.2,"titleFontWeight":"normal","titleColor":"#222","titlePadding":5}},"fill":{"field":"genotype","type":"nominal","sort":null,"scale":{"domain":["Ptpn2 fl/fl","Lck-Cre Ptpn2 fl/fl"],"range":["black","white"]},"legend":null}}},
{"width":48,"height":112,"data":{"values":[]},"mark":{"type":"point","opacity":0},"encoding":{}},
{"width":57,"height":112,"data":{"values":[{"genotype":"Ptpn2 fl/fl","enrichment":3.8},{"genotype":"Lck-Cre Ptpn2 fl/fl","enrichment":3.92}]},"mark":{"type":"bar","stroke":"black","strokeWidth":1.5},"encoding":{"x":{"field":"genotype","type":"nominal","sort":null,"scale":{"paddingInner":0.3,"paddingOuter":0.15},"axis":{"title":null,"labels":false,"ticks":false,"domainColor":"black","domainWidth":1.5}},"y":{"field":"enrichment","type":"quantitative","scale":{"domain":[0,5],"nice":false},"axis":{"title":"Normalised Stat3 enrichment","values":[0,1,2,3,4,5],"format":"d","grid":false,"tickSize":3,"tickColor":"black","domainColor":"black","domainWidth":1.5,"labelFont":"Liberation Sans","labelFontSize":8.5,"labelColor":"black","labelPadding":1,"titleFont":"Liberation Sans","titleFontSize":9.2,"titleFontWeight":"normal","titleColor":"#222","titlePadding":5}},"fill":{"field":"genotype","type":"nominal","sort":null,"scale":{"domain":["Ptpn2 fl/fl","Lck-Cre Ptpn2 fl/fl"],"range":["black","white"]},"legend":null}}},
{"width":49,"height":112,"data":{"values":[]},"mark":{"type":"point","opacity":0},"encoding":{}},
{"width":57,"height":112,"data":{"values":[{"genotype":"Ptpn2 fl/fl","enrichment":1.0},{"genotype":"Lck-Cre Ptpn2 fl/fl","enrichment":1.87}]},"mark":{"type":"bar","stroke":"black","strokeWidth":1.5},"encoding":{"x":{"field":"genotype","type":"nominal","sort":null,"scale":{"paddingInner":0.3,"paddingOuter":0.15},"axis":{"title":null,"labels":false,"ticks":false,"domainColor":"black","domainWidth":1.5}},"y":{"field":"enrichment","type":"quantitative","scale":{"domain":[0,3],"nice":false},"axis":{"title":"Normalised Cd274 enrichment","values":[0,1,2,3],"format":"d","grid":false,"tickSize":3,"tickColor":"black","domainColor":"black","domainWidth":1.5,"labelFont":"Liberation Sans","labelFontSize":8.5,"labelColor":"black","labelPadding":1,"titleFont":"Liberation Sans","titleFontSize":9.2,"titleFontWeight":"normal","titleColor":"#222","titlePadding":5}},"fill":{"field":"genotype","type":"nominal","sort":null,"scale":{"domain":["Ptpn2 fl/fl","Lck-Cre Ptpn2 fl/fl"],"range":["black","white"]},"legend":null}}},
{"width":50,"height":112,"data":{"values":[]},"mark":{"type":"point","opacity":0},"encoding":{}},
{"width":56,"height":112,"data":{"values":[{"genotype":"Ptpn2 fl/fl","enrichment":1.35},{"genotype":"Lck-Cre Ptpn2 fl/fl","enrichment":3.5}]},"mark":{"type":"bar","stroke":"black","strokeWidth":1.5},"encoding":{"x":{"field":"genotype","type":"nominal","sort":null,"scale":{"paddingInner":0.3,"paddingOuter":0.15},"axis":{"title":null,"labels":false,"ticks":false,"domainColor":"black","domainWidth":1.5}},"y":{"field":"enrichment","type":"quantitative","scale":{"domain":[0,4],"nice":false},"axis":{"title":"Normalised Il4ra enrichment","values":[0,1,2,3,4],"format":"d","grid":false,"tickSize":3,"tickColor":"black","domainColor":"black","domainWidth":1.5,"labelFont":"Liberation Sans","labelFontSize":8.5,"labelColor":"black","labelPadding":1,"titleFont":"Liberation Sans","titleFontSize":9.2,"titleFontWeight":"normal","titleColor":"#222","titlePadding":5}},"fill":{"field":"genotype","type":"nominal","sort":null,"scale":{"domain":["Ptpn2 fl/fl","Lck-Cre Ptpn2 fl/fl"],"range":["black","white"]},"legend":null}}},
{"width":43,"height":112,"data":{"values":[]},"mark":{"type":"point","opacity":0},"encoding":{}},
{"width":57,"height":112,"data":{"values":[{"genotype":"Ptpn2 fl/fl","enrichment":0.52},{"genotype":"Lck-Cre Ptpn2 fl/fl","enrichment":2.05}]},"mark":{"type":"bar","stroke":"black","strokeWidth":1.5},"encoding":{"x":{"field":"genotype","type":"nominal","sort":null,"scale":{"paddingInner":0.3,"paddingOuter":0.15},"axis":{"title":null,"labels":false,"ticks":false,"domainColor":"black","domainWidth":1.5}},"y":{"field":"enrichment","type":"quantitative","scale":{"domain":[0,3],"nice":false},"axis":{"title":"Normalised JunB enrichment","values":[0,1,2,3],"format":"d","grid":false,"tickSize":3,"tickColor":"black","domainColor":"black","domainWidth":1.5,"labelFont":"Liberation Sans","labelFontSize":8.5,"labelColor":"black","labelPadding":1,"titleFont":"Liberation Sans","titleFontSize":9.2,"titleFontWeight":"normal","titleColor":"#222","titlePadding":5}},"fill":{"field":"genotype","type":"nominal","sort":null,"scale":{"domain":["Ptpn2 fl/fl","Lck-Cre Ptpn2 fl/fl"],"range":["black","white"]},"legend":null}}},
{"width":45,"height":112,"data":{"values":[]},"mark":{"type":"point","opacity":0},"encoding":{}},
{"width":58,"height":112,"data":{"values":[{"genotype":"Ptpn2 fl/fl","enrichment":0.72},{"genotype":"Lck-Cre Ptpn2 fl/fl","enrichment":1.53}]},"mark":{"type":"bar","stroke":"black","strokeWidth":1.5},"encoding":{"x":{"field":"genotype","type":"nominal","sort":null,"scale":{"paddingInner":0.3,"paddingOuter":0.15},"axis":{"title":null,"labels":false,"ticks":false,"domainColor":"black","domainWidth":1.5}},"y":{"field":"enrichment","type":"quantitative","scale":{"domain":[0,2],"nice":false},"axis":{"title":"Normalised Socs1 enrichment","values":[0,1,2],"format":"d","grid":false,"tickSize":3,"tickColor":"black","domainColor":"black","domainWidth":1.5,"labelFont":"Liberation Sans","labelFontSize":8.5,"labelColor":"black","labelPadding":1,"titleFont":"Liberation Sans","titleFontSize":9.2,"titleFontWeight":"normal","titleColor":"#222","titlePadding":5}},"fill":{"field":"genotype","type":"nominal","sort":null,"scale":{"domain":["Ptpn2 fl/fl","Lck-Cre Ptpn2 fl/fl"],"range":["black","white"]},"legend":null}}},
{"width":125,"height":112,
"encoding":{"x":{"field":"x","type":"quantitative","scale":{"domain":[825,1200],"nice":false,"zero":false},"axis":null},"y":{"field":"y","type":"quantitative","scale":{"domain":[93,429],"reverse":true,"nice":false,"zero":false},"axis":null}},
"layer":[
{"data":{"values":[{"genotype":"Ptpn2 fl/fl","x":890,"x2":925,"y":62,"y2":95},{"genotype":"Lck-Cre Ptpn2 fl/fl","x":890,"x2":925,"y":125,"y2":155}]},"mark":{"type":"rect","stroke":"black","strokeWidth":1.5},"encoding":{"x2":{"field":"x2"},"y2":{"field":"y2"},"fill":{"field":"genotype","type":"nominal","scale":{"domain":["Ptpn2 fl/fl","Lck-Cre Ptpn2 fl/fl"],"range":["black","white"]},"legend":null}}},
{"data":{"values":[{"t":"Ptpn2","x":950,"y":85},{"t":"Lck-Cre Ptpn2","x":950,"y":145}]},"mark":{"type":"text","align":"left","fontStyle":"italic","fontSize":10.5},"encoding":{"text":{"field":"t"}}},
{"data":{"values":[{"t":"fl/fl","x":1037,"y":76},{"t":"fl/fl","x":1145,"y":136}]},"mark":{"type":"text","align":"left","fontStyle":"italic","fontSize":7.5},"encoding":{"text":{"field":"t"}}}
]}
],"spacing":0,"bounds":"flush"}
],"spacing":15}
